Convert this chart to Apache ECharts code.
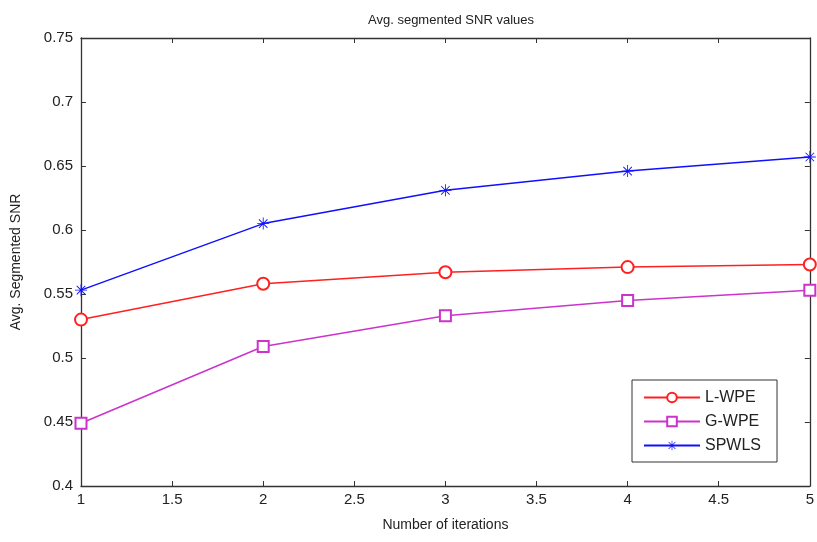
<!DOCTYPE html>
<html>
<head>
<meta charset="utf-8">
<script src="https://cdn.jsdelivr.net/npm/echarts@6/dist/echarts.min.js"></script>
<style>
html, body { margin: 0; padding: 0; background: #fff; }
#main { width: 817px; height: 542px; }
</style>
</head>
<body>
<div id="main"></div>
<script>
var iterations = [1, 2, 3, 4, 5];
var lwpe = [0.530, 0.558, 0.567, 0.571, 0.573];
var gwpe = [0.449, 0.509, 0.533, 0.545, 0.553];
var spwls = [0.553, 0.605, 0.631, 0.646, 0.657];

function pairs(vals) {
    return iterations.map(function (x, i) { return [x, vals[i]]; });
}

var asterisk = 'path://M9.3,0h1.4v20h-1.4z M0,9.3h20v1.4h-20z ' +
    'M2.4,3.4l1-1l14.2,14.2l-1,1z M16.6,2.4l1,1l-14.2,14.2l-1,-1z';

var font = 'Liberation Sans';
var axisLine = { lineStyle: { color: '#333', width: 1.3 } };

var myChart = echarts.init(document.getElementById('main'));
var option = {
    backgroundColor: '#fff',
    animation: false,
    textStyle: { fontFamily: font },
    title: {
        text: 'Avg. segmented SNR values',
        left: 446,
        top: 9,
        textAlign: 'center',
        textStyle: { fontSize: 13, fontWeight: 'normal', color: '#222', fontFamily: font }
    },
    legend: {
        orient: 'vertical',
        left: 632,
        top: 380,
        padding: [9, 16, 8, 11],
        itemGap: 7,
        itemWidth: 56,
        itemHeight: 12,
        borderColor: '#333',
        borderWidth: 1,
        backgroundColor: '#fff',
        textStyle: { fontSize: 16, color: '#222', fontFamily: font, lineHeight: 17 },
        data: ['L-WPE', 'G-WPE', 'SPWLS']
    },
    grid: { left: 81, top: 38, right: 6, bottom: 56 },
    xAxis: [
        {
            type: 'value',
            min: 1, max: 5, interval: 0.5,
            name: 'Number of iterations',
            nameLocation: 'middle',
            nameGap: 32,
            nameTextStyle: { fontSize: 14, color: '#222' },
            axisLine: axisLine,
            axisTick: { inside: true, length: 5, lineStyle: { color: '#333' } },
            axisLabel: { fontSize: 15, color: '#222', margin: 6 },
            splitLine: { show: false }
        },
        {
            type: 'value', position: 'top',
            min: 1, max: 5, interval: 0.5,
            axisLine: axisLine,
            axisTick: { inside: true, length: 5, lineStyle: { color: '#333' } },
            axisLabel: { show: false },
            splitLine: { show: false }
        }
    ],
    yAxis: [
        {
            type: 'value',
            min: 0.4, max: 0.75, interval: 0.05,
            name: 'Avg. Segmented SNR',
            nameLocation: 'middle',
            nameGap: 58,
            nameTextStyle: { fontSize: 14, color: '#222' },
            axisLine: axisLine,
            axisTick: { inside: true, length: 5, lineStyle: { color: '#333' } },
            axisLabel: { fontSize: 15, color: '#222', margin: 8 },
            splitLine: { show: false }
        },
        {
            type: 'value', position: 'right',
            min: 0.4, max: 0.75, interval: 0.05,
            axisLine: axisLine,
            axisTick: { inside: true, length: 5, lineStyle: { color: '#333' } },
            axisLabel: { show: false },
            splitLine: { show: false }
        }
    ],
    series: [
        {
            name: 'L-WPE',
            type: 'line',
            data: pairs(lwpe),
            color: '#ff2020',
            symbol: 'emptyCircle',
            symbolSize: 12,
            lineStyle: { width: 1.5 },
            itemStyle: { borderWidth: 1.3 }
        },
        {
            name: 'G-WPE',
            type: 'line',
            data: pairs(gwpe),
            color: '#cc33cc',
            symbol: 'emptyRect',
            symbolSize: 11,
            lineStyle: { width: 1.5 },
            itemStyle: { borderWidth: 1.3 }
        },
        {
            name: 'SPWLS',
            type: 'line',
            data: pairs(spwls),
            color: '#1010ff',
            symbol: asterisk,
            symbolSize: 12,
            lineStyle: { width: 1.5 },
            itemStyle: { borderWidth: 0 }
        }
    ]
};
myChart.setOption(option);
</script>
</body>
</html>
